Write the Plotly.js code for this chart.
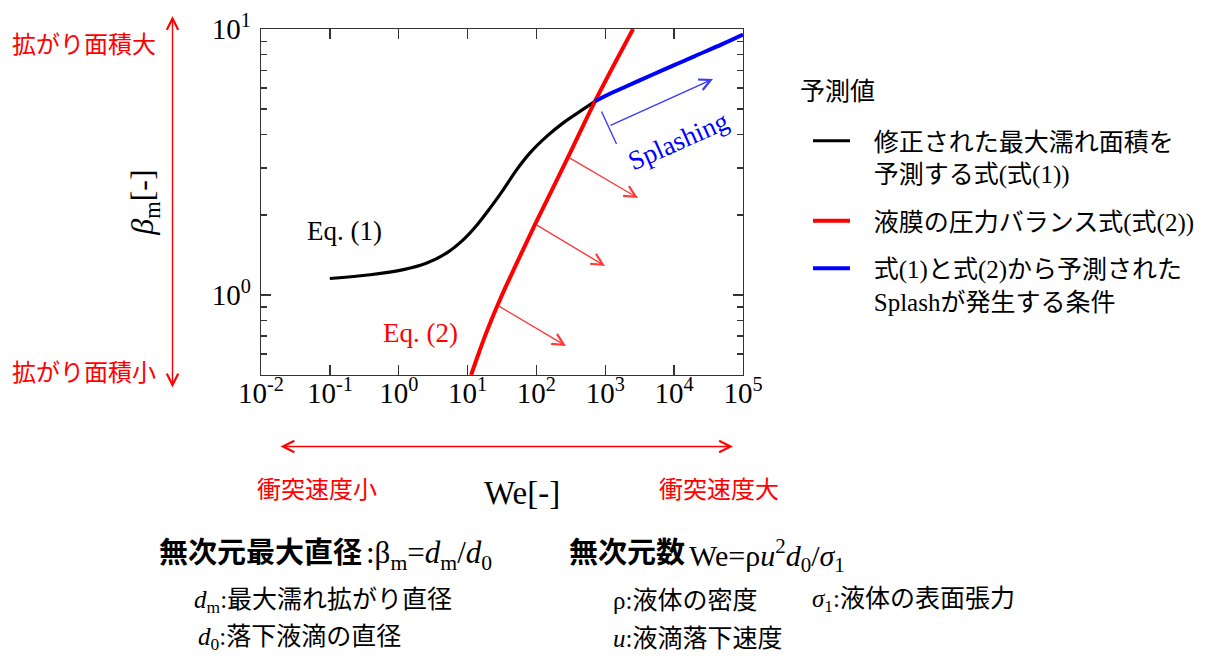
<!DOCTYPE html>
<html><head><meta charset="utf-8">
<script src="https://cdn.plot.ly/plotly-3.0.1.min.js"></script>
<style>html,body{margin:0;padding:0;background:#fff;}#chart{width:1206px;height:657px;}</style>
</head><body><div id="chart"></div>
<script>
// ---- data ----
const weEq1 = [0.1,0.385,1.17,2.56,5.0,8.7,13.6,21.2,33.1,51.8,80.7,141,245,429,708];
const betaEq1 = [1.153,1.191,1.245,1.318,1.439,1.614,1.828,2.12,2.489,2.958,3.42,3.945,4.436,4.898,5.346];
const weEq2 = [11.25,14.13,17.78,22.39,28.18,35.48,50.1,95.5,288,708,2535];
const betaEq2 = [0.5,0.592,0.697,0.811,0.933,1.067,1.294,1.841,3.296,5.346,10.0];
const weSplash = [708,1000,2000,5000,10000,20000,50000,100000];
const betaSplash = [5.346,5.60,6.08,6.76,7.31,7.91,8.77,9.53];
const seriesNames = ['修正された最大濡れ面積を<br>予測する式(式(1))','液膜の圧力バランス式(式(2))','式(1)と式(2)から予測された<br>Splashが発生する条件'];
const legendTitle = '予測値';
const xTickVals = [0.01,0.1,1,10,100,1000,10000,100000];
const xTickText = ['10<sup>-2</sup>','10<sup>-1</sup>','10<sup>0</sup>','10<sup>1</sup>','10<sup>2</sup>','10<sup>3</sup>','10<sup>4</sup>','10<sup>5</sup>'];
const yTickVals = [1,10];
const yTickText = ['10<sup>0</sup>','10<sup>1</sup>'];
const yMinorVals = [0.6,0.7,0.8,0.9,2,3,4,5,6,7,8,9];

// ---- layout helpers ----
const W = 1206, H = 657;
const M = {l:261, r:463, t:29, b:282, autoexpand:false};
const PW = W - M.l - M.r, PH = H - M.t - M.b;
const px = x => (x - M.l) / PW;
const py = y => (H - M.b - y) / PH;
const SERIF = 'Liberation Serif, "Noto Sans CJK JP", serif';
const GOTH = '"Noto Sans CJK JP", sans-serif';
const RED = '#ff0000', BLUE = '#0000ff';
const GAP = '\u00a0\u00a0\u00a0';
const legendLabel = s => s.split('<br>').map(l => GAP + l).join('<br>');

const traces = [
  {x: weEq1, y: betaEq1, mode:'lines', name: legendLabel(seriesNames[0]), legendgroup:'g1', line:{color:'#000', width:3.2, shape:'spline', smoothing:1}},
  {x: weEq2, y: betaEq2, mode:'lines', name: legendLabel(seriesNames[1]), legendgroup:'g2', line:{color:RED, width:4, shape:'spline', smoothing:1}},
  {x: weSplash, y: betaSplash, mode:'lines', name: legendLabel(seriesNames[2]), legendgroup:'g3', line:{color:BLUE, width:4, shape:'spline', smoothing:1}}
];

function txt(text, x, y, opts) {
  return Object.assign({text, x:px(x), y:py(y), xref:'paper', yref:'paper', showarrow:false,
    xanchor:'center', yanchor:'middle', font:{family:SERIF, size:24, color:'#000'}}, opts || {});
}
function arrow(tx, ty, hx, hy, color, both) {
  return {text:'', x:px(hx), y:py(hy), xref:'paper', yref:'paper', showarrow:true,
    ax: tx - hx, ay: ty - hy, arrowcolor: color, arrowwidth: 1.4, arrowhead: 5, arrowsize: 1.6,
    startarrowhead: 5, startarrowsize: 1.6, arrowside: both ? 'end+start' : 'end', standoff:0, startstandoff:0};
}
const L = (t, x, y, size, extra) => txt(t, x, y, Object.assign({xanchor:'left', font:{family:SERIF, size:size, color:'#000'}}, extra || {}));

const annotations = [
  txt('Eq. (1)', 344, 231, {font:{family:SERIF, size:27, color:'#000'}}),
  txt('Eq. (2)', 420, 333, {font:{family:SERIF, size:27, color:RED}}),
  txt('Splashing', 678, 141, {textangle:-24, font:{family:SERIF, size:27, color:BLUE}}),
  arrow(609, 126, 713, 79, '#3a3aff'),
  arrow(568, 157, 638, 198, '#ff3a3a'),
  arrow(535, 224, 605, 266, '#ff3a3a'),
  arrow(497, 305, 566, 346, '#ff3a3a'),
  arrow(172.5, 389, 172.5, 16, RED, true),
  arrow(279, 446.5, 733, 446.5, RED, true),
  txt('拡がり面積大', 84, 42, {font:{family:GOTH, size:24, color:RED}}),
  txt('拡がり面積小', 84, 370, {font:{family:GOTH, size:24, color:RED}}),
  txt('衝突速度小', 317, 487, {font:{family:GOTH, size:24, color:RED}}),
  txt('衝突速度大', 719, 487, {font:{family:GOTH, size:24, color:RED}}),
  txt('We[-]', 522, 493, {font:{family:'Liberation Serif', size:33, color:'#000'}}),
  txt(legendTitle, 798, 89, {xanchor:'left', font:{family:GOTH, size:25, color:'#000'}}),
  L('<b>無次元最大直径</b>', 157, 553, 29),
  L(':β<sub>m</sub>=<i>d</i><sub>m</sub>/<i>d</i><sub>0</sub>', 364, 555, 31),
  L('<b>無次元数</b>', 567, 553, 29),
  L('We=ρ<i>u</i><sup>2</sup><i>d</i><sub>0</sub>/<i>σ</i><sub>1</sub>', 687, 555, 30),
  L('<i>d</i><sub>m</sub>:最大濡れ拡がり直径', 192, 601, 25),
  L('<i>d</i><sub>0</sub>:落下液滴の直径', 196, 638, 25),
  L('ρ:液体の密度', 611, 600, 25),
  L('<i>σ</i><sub>1</sub>:液体の表面張力', 810, 600, 25),
  L('<i>u</i>:液滴落下速度', 611, 638, 25)
];

const shapes = [
  {type:'line', xref:'paper', yref:'paper', x0:px(601.5), y0:py(111.5), x1:px(616.5), y1:py(144), line:{color:'#3a3aff', width:1.4}}
];

const axisCommon = {showline:true, linecolor:'#333', linewidth:1.3, mirror:'ticks', ticks:'inside',
  ticklen:10, tickwidth:1.3, tickcolor:'#333', showgrid:false, zeroline:false, automargin:false,
  tickfont:{family:'Liberation Serif', size:29, color:'#000'}};

const layout = {
  width:W, height:H, margin:M, paper_bgcolor:'#fff', plot_bgcolor:'#fff',
  showlegend:true,
  legend:{x:px(808), xanchor:'left', y:py(118), yanchor:'top', bgcolor:'rgba(0,0,0,0)', valign:'top',
    font:{family:SERIF, size:25, color:'#000'}, itemwidth:37, tracegroupgap:12},
  xaxis: Object.assign({}, axisCommon, {type:'log', range:[-2,5], tickmode:'array', tickvals:xTickVals, ticktext:xTickText,
    ticklabelstandoff:-8}),
  yaxis: Object.assign({}, axisCommon, {type:'log', range:[Math.log10(0.5),1], tickmode:'array', tickvals:yTickVals, ticktext:yTickText,
    ticklabelstandoff:3,
    minor:{ticks:'inside', ticklen:6, tickwidth:1.3, tickcolor:'#333', tickmode:'array', tickvals:yMinorVals, showgrid:false},
    title:{text:'<i>β</i><sub>m</sub>[-]', font:{family:'Liberation Serif', size:32, color:'#000'}, standoff:48}}),
  annotations, shapes
};

Plotly.newPlot('chart', traces, layout, {staticPlot:true});
</script></body></html>
